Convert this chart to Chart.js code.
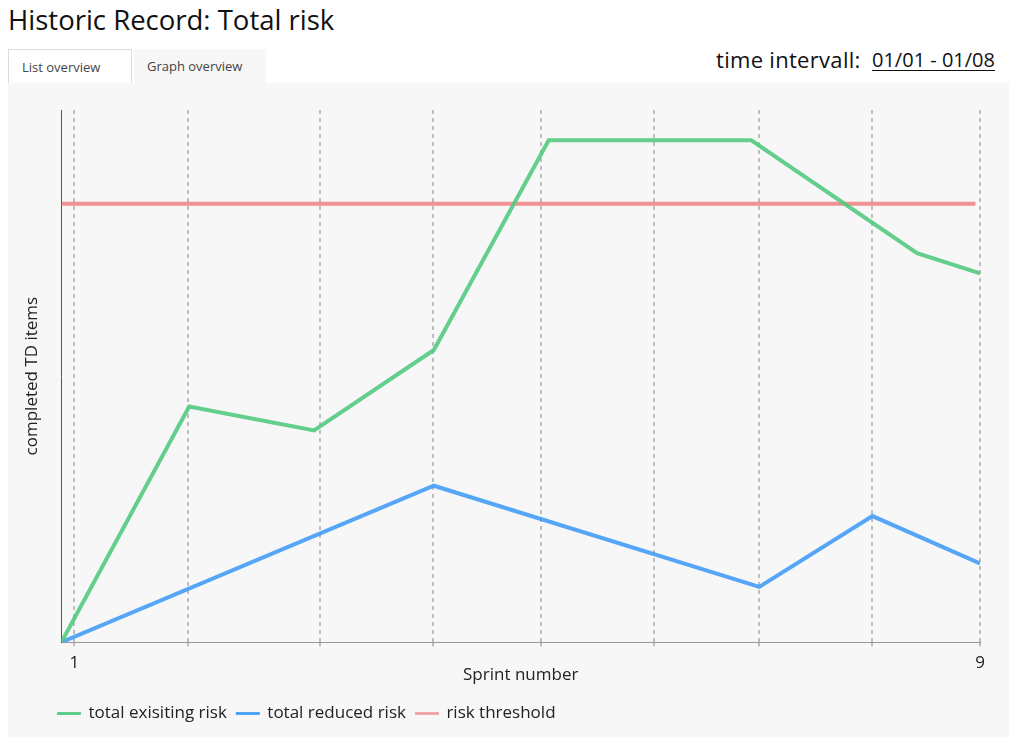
<!DOCTYPE html>
<html>
<head>
<meta charset="utf-8">
<script src="https://cdn.jsdelivr.net/npm/chart.js@4"></script>
<style>
  body { margin:0; background:#fff; font-family:"Open Sans", sans-serif; color:#111; width:1009px; height:737px; overflow:hidden; position:relative; }
  h1 { position:absolute; left:8px; top:1px; margin:0; font-size:27.5px; font-weight:400; }
  .tab { position:absolute; top:49px; height:34px; line-height:34px; font-size:13px; color:#444; box-sizing:border-box; padding-left:13px; }
  #tab1 { left:8px; width:124px; background:#fff; border:1px solid #ddd; border-bottom:none; }
  #tab2 { left:134px; width:132px; background:#f7f7f7; }
  #interval-label { position:absolute; left:716px; top:44px; font-size:22px; letter-spacing:0.3px; }
  #interval-date { position:absolute; left:872px; top:46px; font-size:20px; text-decoration:underline; text-decoration-thickness:1px; text-underline-offset:3px; }
  #panel { position:absolute; left:8px; top:83px; width:1001px; height:654px; background:#f7f7f7; }
</style>
</head>
<body>
<h1>Historic Record: Total risk</h1>
<div class="tab" id="tab1">List overview</div>
<div class="tab" id="tab2">Graph overview</div>
<div id="interval-label">time intervall:</div>
<div id="interval-date">01/01 - 01/08</div>
<div id="panel"><canvas id="risk-chart" width="1001" height="654"></canvas></div>
<script>
// sprint positions of the dashed grid lines
const gridX = [1, 2.006, 3.17, 4.17, 5.12, 6.12, 7.05, 8.05, 9];
// total exisiting risk
const existingX = [0.885, 2.014, 3.117, 4.175, 5.19, 6.98, 8.444, 9];
const existingY = [0, 44.3, 39.8, 54.9, 94.3, 94.3, 73.1, 69.3];
// total reduced risk
const reducedX = [0.885, 4.175, 7.05, 8.05, 9];
const reducedY = [0, 29.4, 10.4, 23.7, 14.8];
// risk threshold
const thresholdX = [0.885, 8.96];
const thresholdY = [82.4, 82.4];

function points(xs, ys){
  return xs.map((x, i) => ({x: x, y: ys[i]}));
}

const font = {family: '"Open Sans", sans-serif', size: 17};

const ctx = document.getElementById('risk-chart').getContext('2d');
const myChart = new Chart(ctx, {
  type: 'line',
  data: {
    datasets: [
      {label: 'total exisiting risk', data: points(existingX, existingY),
       borderColor: 'rgba(80,200,125,0.88)', backgroundColor: 'rgba(80,200,125,0.88)', borderWidth: 4},
      {label: 'total reduced risk', data: points(reducedX, reducedY),
       borderColor: 'rgba(66,156,245,0.9)', backgroundColor: 'rgba(66,156,245,0.9)', borderWidth: 4},
      {label: 'risk threshold', data: points(thresholdX, thresholdY),
       borderColor: 'rgba(238,120,120,0.8)', backgroundColor: 'rgba(240,160,160,0.9)', borderWidth: 4}
    ]
  },
  options: {
    responsive: false,
    animation: false,
    elements: { point: { radius: 0 }, line: { tension: 0 } },
    layout: { padding: { left: 8, top: 27, right: 29, bottom: 5 } },
    plugins: {
      tooltip: { enabled: false },
      legend: {
        position: 'bottom',
        align: 'start',
        labels: {
          boxWidth: 22, boxHeight: 1, color: '#222', font: font, padding: 10,
          generateLabels: chart => Chart.defaults.plugins.legend.labels.generateLabels(chart)
            .map(item => Object.assign(item, {lineWidth: 2, strokeStyle: item.fillStyle}))
        }
      }
    },
    scales: {
      x: {
        type: 'linear',
        min: 0.885,
        max: 9,
        afterBuildTicks: scale => { scale.ticks = gridX.map(v => ({value: v})); },
        ticks: {
          autoSkip: false, maxRotation: 0, color: '#222', font: font, padding: 7,
          callback: v => (v === 1 || v === 9) ? String(v) : ''
        },
        grid: { color: '#bdbdbd', lineWidth: 2, tickLength: 4 },
        border: { display: true, color: '#999', width: 1, dash: [4, 4] },
        title: { display: true, text: 'Sprint number', color: '#222', font: font, padding: {top: -16, bottom: 10} }
      },
      y: {
        min: 0,
        max: 100,
        ticks: { display: false },
        grid: { display: false },
        border: { display: true, color: '#555', width: 1 },
        title: { display: true, text: 'completed TD items', color: '#222', font: font, padding: {top: 6, bottom: 11} }
      }
    }
  },
  plugins: [{
    id: 'legendShift',
    afterLayout: chart => { chart.legend.left += 32; }
  }]
});
</script>
</body>
</html>
